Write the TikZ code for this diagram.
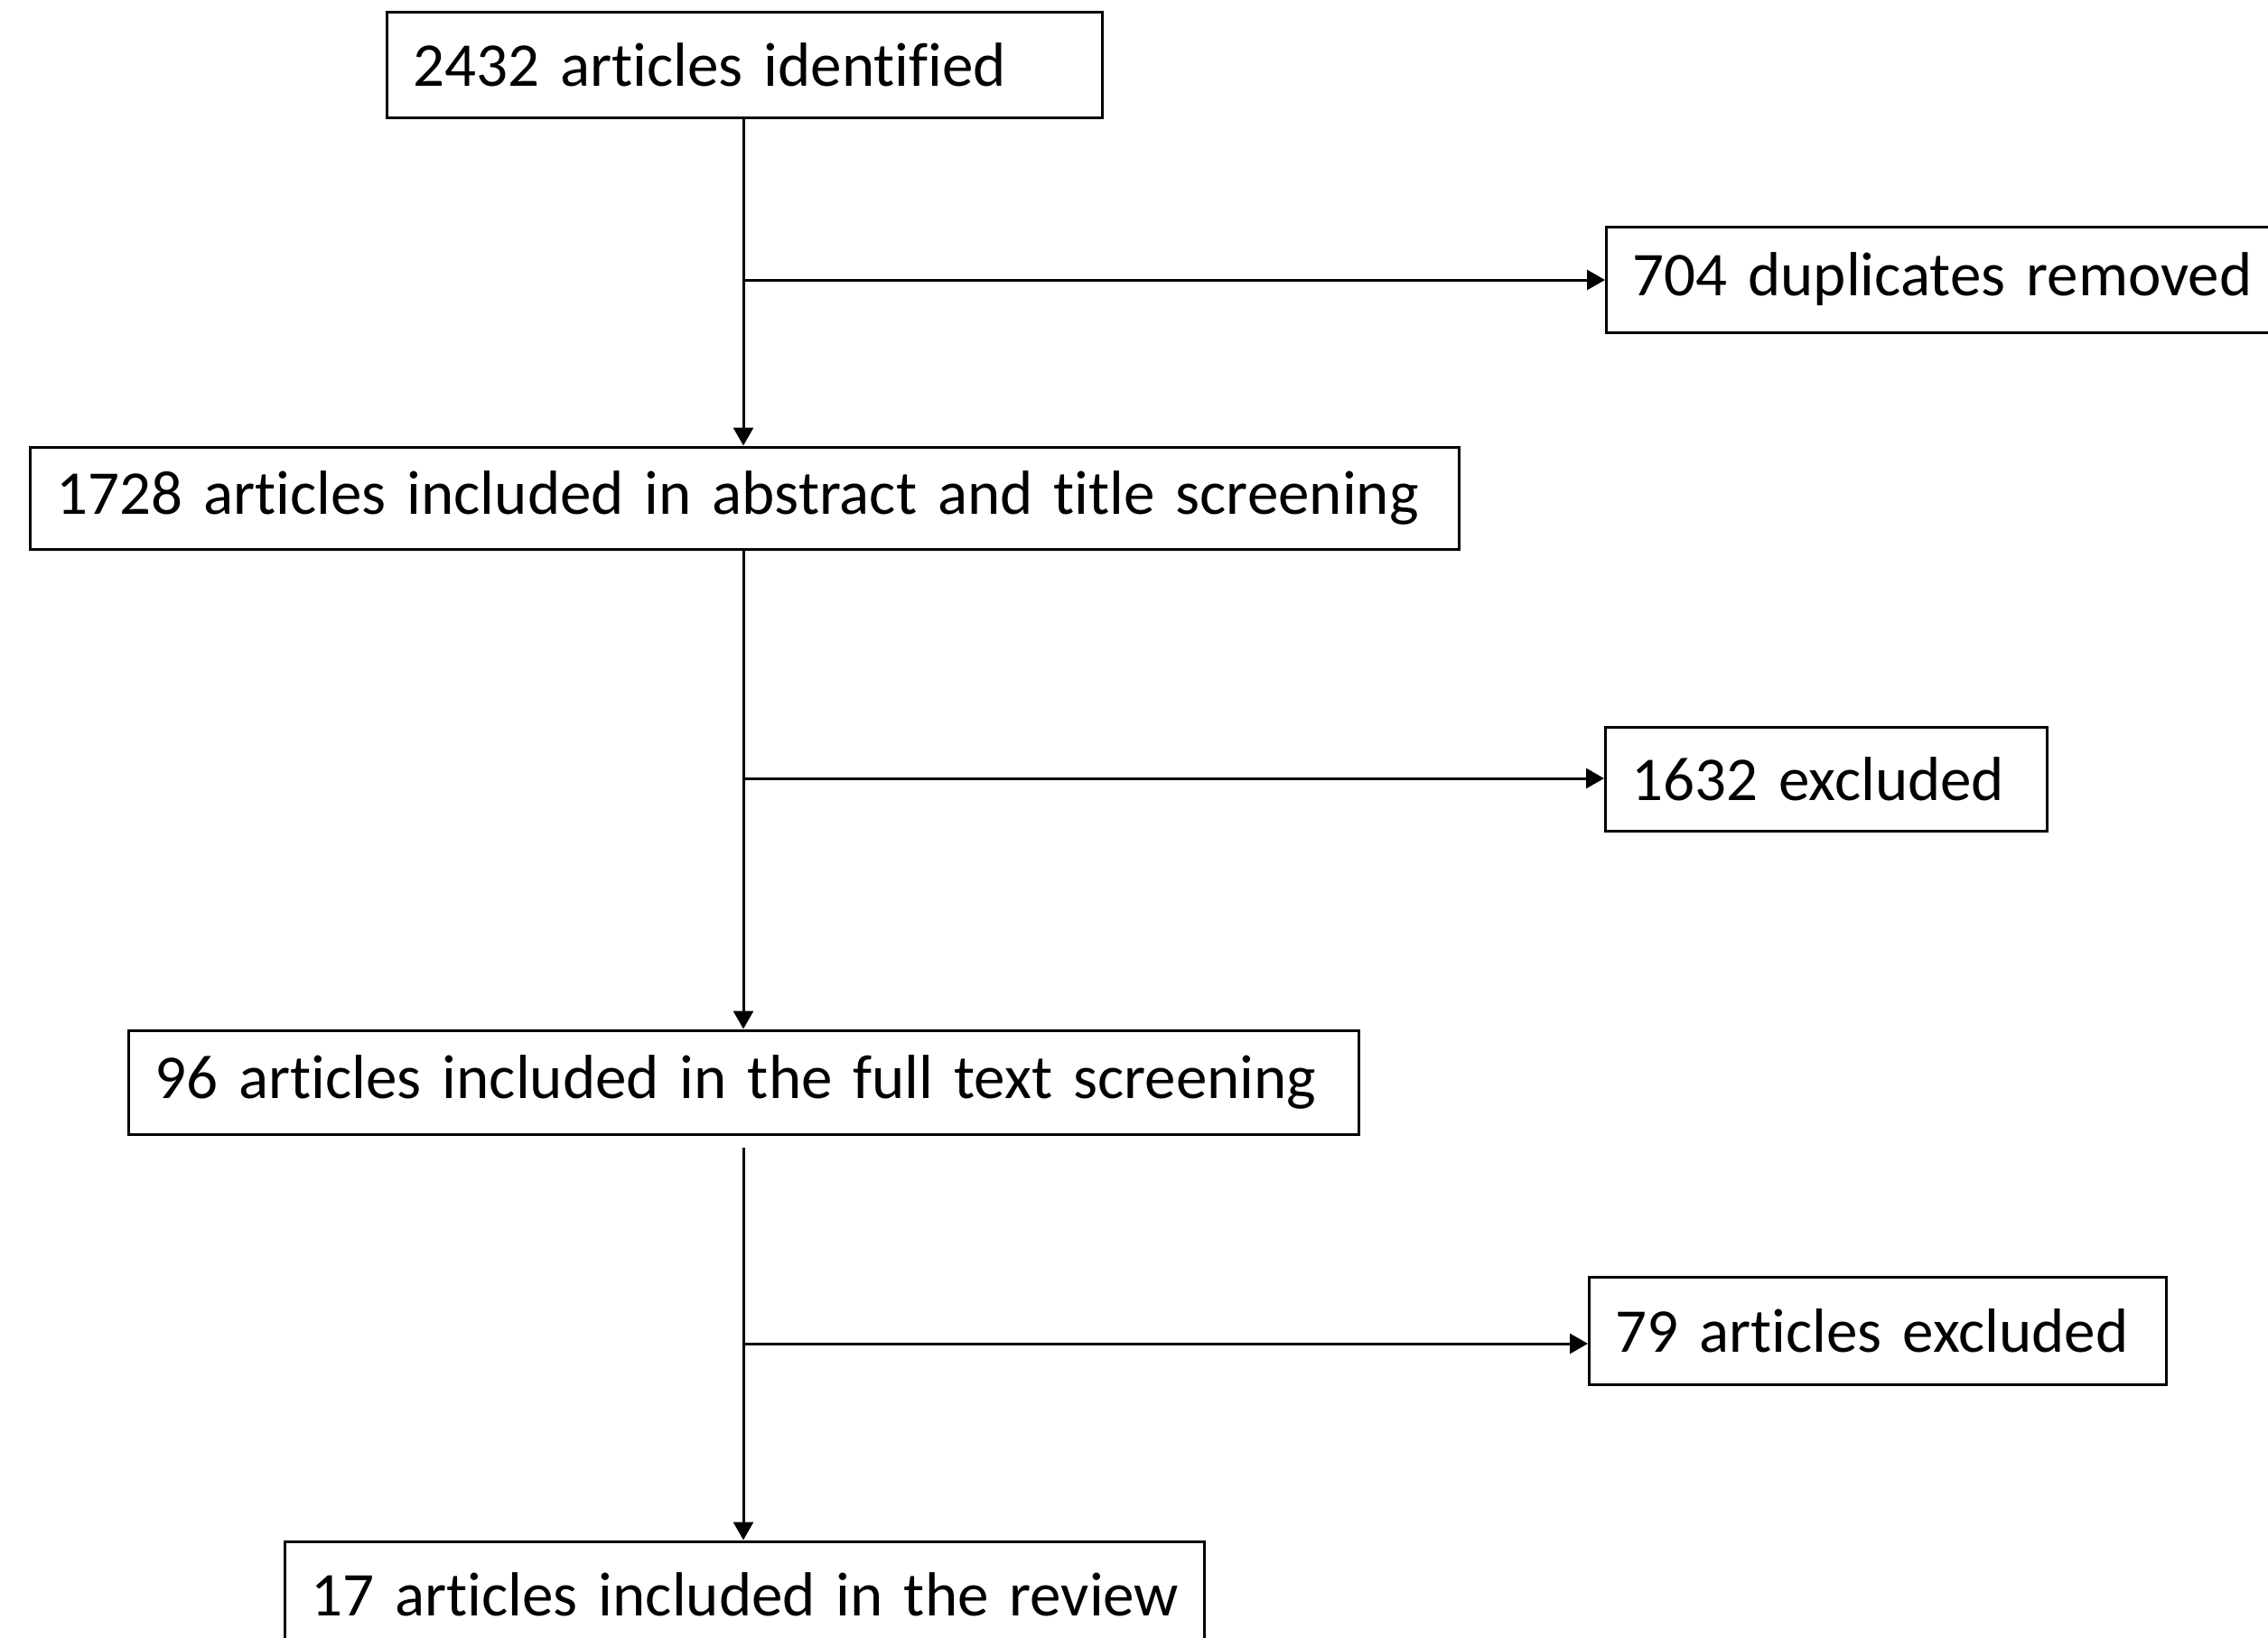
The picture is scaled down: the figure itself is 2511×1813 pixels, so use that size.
\documentclass[tikz,border=0pt]{standalone}
\usepackage{fontspec}
\setmainfont{Carlito}[Ligatures=NoCommon]
\usetikzlibrary{arrows.meta}
\begin{document}
\begin{tikzpicture}[x=1pt,y=-1pt,
  box/.style={draw, line width=3pt, inner xsep=29pt, inner ysep=0pt, align=left, anchor=west,
    font=\fontsize{69}{80}\selectfont},
  conn/.style={line width=3pt},
  arr/.style={conn, -{Triangle[length=20pt,width=22pt]}}]
\useasboundingbox (0,0) rectangle (2511,1813);
\node[box, text width=734pt, minimum height=117pt] (b1) at (427,71.5) {\mbox{2432 articles identified}};
\node[box, text width=685pt, minimum height=117pt] (b2) at (1777,309.5) {\mbox{704 duplicates removed}};
\node[box, text width=1524pt, minimum height=113pt] (b3) at (32,551.5) {\mbox{1728 articles included in abstract and title screening}};
\node[box, text width=431pt, minimum height=115pt] (b4) at (1776,862.5) {\mbox{1632 excluded}};
\node[box, text width=1304pt, minimum height=115pt] (b5) at (141,1198.5) {\mbox{96 articles included in the full text screening}};
\node[box, text width=581pt, minimum height=119pt] (b6) at (1758,1473.5) {\mbox{79 articles excluded}};
\node[box, text width=960pt, minimum height=117pt] (b7) at (314,1765.5) {\mbox{17 articles included in the review}};
\coordinate (j1) at (823,310);
\coordinate (j2) at (823,862);
\coordinate (j3) at (823,1488);
\draw[arr] (b1.south -| j1) -- (b3.north -| j1);
\draw[arr] (j1) -- (j1 -| b2.west);
\draw[arr] (b3.south -| j2) -- (b5.north -| j2);
\draw[arr] (j2) -- (j2 -| b4.west);
\draw[arr, shorten <=13pt] (b5.south -| j3) -- (b7.north -| j3);
\draw[arr] (j3) -- (j3 -| b6.west);
\end{tikzpicture}
\end{document}
